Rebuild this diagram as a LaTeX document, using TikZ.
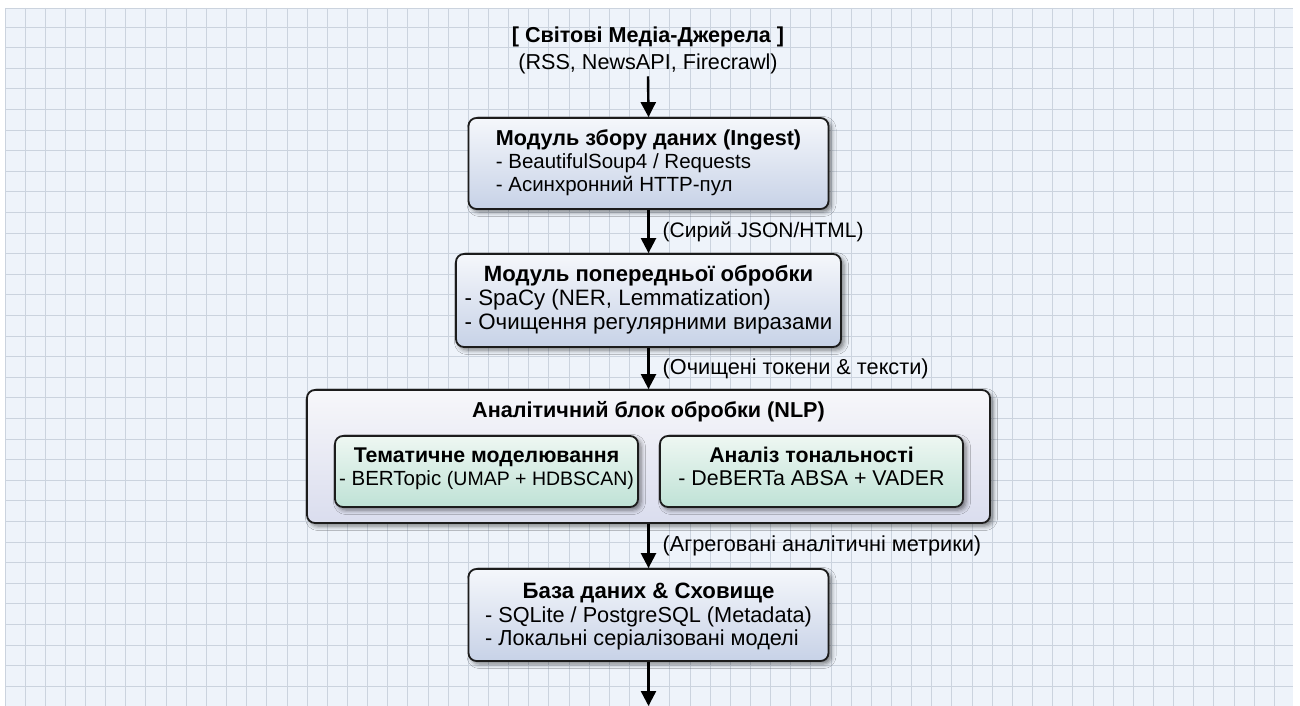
\documentclass[tikz,border=0pt]{standalone}
\usepackage{fontspec}
\setmainfont{Liberation Sans}
\usetikzlibrary{arrows.meta,shadows.blur,calc}
\definecolor{bgc}{HTML}{EEF3FA}
\definecolor{gridc}{HTML}{CBD3DE}
\definecolor{blueTop}{HTML}{F5F7FB}
\definecolor{blueBot}{HTML}{C7D2E7}
\definecolor{outTop}{HTML}{F7F7FA}
\definecolor{outBot}{HTML}{DADDEE}
\definecolor{grnTop}{HTML}{EEF7F2}
\definecolor{grnBot}{HTML}{BFE2D6}
\definecolor{edgec}{HTML}{1C1C1C}
\newcommand{\hdfont}{\fontsize{21.6}{23}\selectfont\bfseries}
\newcommand{\smallpar}{\fontsize{19.5}{20}\selectfont}
\tikzset{
  boxbase/.style={draw=edgec, line width=1.8pt, rounded corners=8pt, inner sep=0pt,
    align=center, shading=axis, shading angle=30,
    blur shadow={shadow xshift=3pt, shadow yshift=-3pt, shadow blur radius=4.5pt, shadow opacity=50},
    font=\fontsize{20.5}{23}\selectfont},
  stagebox/.style={boxbase, top color=blueTop, bottom color=blueBot},
  outerbox/.style={boxbase, top color=outTop, bottom color=outBot},
  innerbox/.style={boxbase, top color=grnTop, bottom color=grnBot},
  flow/.style={line width=2.4pt, draw=black, -{Triangle[width=15pt,length=15pt]}},
  lbl/.style={anchor=west, inner sep=0pt, xshift=13pt, font=\fontsize{21.7}{23}\selectfont},
  srctext/.style={align=center, inner sep=0pt, font=\fontsize{21.6}{27}\selectfont},
}
\begin{document}
\begin{tikzpicture}[x=1pt,y=-1pt]
  \useasboundingbox (0,0) rectangle (1300,706);
  \fill[white] (0,0) rectangle (1300,706);
  \fill[bgc] (5,8) rectangle (1293,706);
  \foreach \k in {0,...,62} {
    \draw[gridc, line width=0.9pt] ({25+20.15*\k},8) -- ({25+20.15*\k},706);
  }
  \foreach \k in {0,...,32} {
    \draw[gridc, line width=0.9pt] (5,{27+20.6*\k}) -- (1293,{27+20.6*\k});
  }
  \draw[gridc, line width=0.9pt] (5,8) -- (5,706);
  \draw[gridc, line width=0.9pt] (5,8) -- (1293,8);

  % source
  \node[srctext] (src) at (648,50.5) {{\bfseries [ Світові Медіа-Джерела ]}\\(RSS, NewsAPI, Firecrawl)};

  % stage 1
  \node[stagebox, minimum width=360pt, minimum height=91pt] (b1) at (648.5,163.5)
    {\begin{tabular}{@{}l@{}}\multicolumn{1}{@{}c@{}}{\hdfont Модуль збору даних (Ingest)}\\
      - BeautifulSoup4 / Requests\\ - Асинхронний HTTP-пул\end{tabular}};

  % stage 2
  \node[stagebox, minimum width=385pt, minimum height=93pt, font=\fontsize{22.3}{24}\selectfont] (b2) at (648.5,300.5)
    {\begin{tabular}{@{}l@{}}\multicolumn{1}{@{}c@{}}{\fontsize{22.1}{24}\selectfont\bfseries Модуль попередньої обробки}\\
      - SpaCy (NER, Lemmatization)\\ - Очищення регулярними виразами\end{tabular}};

  % stage 3 outer
  \node[outerbox, minimum width=683pt, minimum height=133pt] (b3) at (648.5,456.5) {};
  \node[inner sep=0pt, font=\hdfont] (b3t) at (648.5,412) {Аналітичний блок обробки (NLP)};
  \node[innerbox, minimum width=303pt, minimum height=71pt] (tm) at (486.5,471.5)
    {\raisebox{2pt}[\height][\depth]{\begin{tabular}{@{}c@{}}{\fontsize{21.3}{23}\selectfont\bfseries Тематичне моделювання}\\- BERTopic {\smallpar(UMAP + HDBSCAN)}\end{tabular}}};
  \node[innerbox, minimum width=303pt, minimum height=71pt, font=\fontsize{21.4}{23}\selectfont] (sa) at (811.5,471.5)
    {\raisebox{2pt}[\height][\depth]{\begin{tabular}{@{}c@{}}{\fontsize{21.3}{23}\selectfont\bfseries Аналіз тональності}\\- DeBERTa ABSA + VADER\end{tabular}}};

  % stage 4
  \node[stagebox, minimum width=360pt, minimum height=92pt, font=\fontsize{21.7}{23.5}\selectfont] (b4) at (648.5,615)
    {\raisebox{-2.5pt}[\height][\depth]{\begin{tabular}{@{}l@{}}\multicolumn{1}{@{}c@{}}{\fontsize{22.2}{23.5}\selectfont\bfseries База даних \& Сховище}\\
      - SQLite / PostgreSQL (Metadata)\\ - Локальні серіалізовані моделі\end{tabular}}};

  \coordinate (out) at (648.5,706);

  % connectors
  \draw[flow] ($(src.south)+(0,2)$) -- (b1.north);
  \draw[flow] (b1.south) -- node[lbl, font=\fontsize{21}{23}\selectfont] {(Сирий JSON/HTML)} (b2.north);
  \draw[flow] (b2.south) -- node[lbl] {(Очищені токени \& тексти)} (b3.north);
  \draw[flow] (b3.south) -- node[lbl] {(Агреговані аналітичні метрики)} (b4.north);
  \draw[flow] (b4.south) -- (out);
\end{tikzpicture}
\end{document}
